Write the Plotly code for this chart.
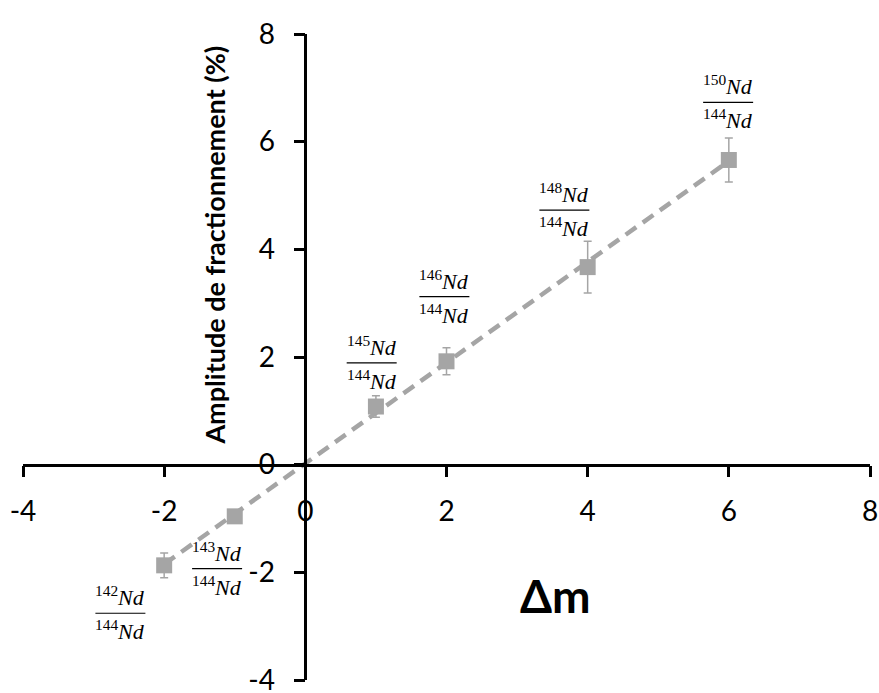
import numpy as np
import plotly.graph_objects as go

# Data
dm = [-2, -1, 1, 2, 4, 6]
amplitude = [-1.87, -0.96, 1.08, 1.92, 3.67, 5.66]
err = [0.23, 0.10, 0.20, 0.25, 0.48, 0.41]
labels = ["142", "143", "145", "146", "148", "150"]
label_x = [-2.62, -1.25, 0.94, 1.97, 3.67, 5.99]
label_y = [-2.76, -1.93, 1.89, 3.12, 4.73, 6.73]
tick_vals = [-4, -2, 0, 2, 4, 6, 8]
tick_text = ["-4", "-2", "0", "2", "4", "6", "8"]

GREY = "#A5A5A5"
TICKFONT = dict(family="Lato", size=28, color="black")
FRAC_FONT = dict(family="Liberation Serif", size=22, color="black")

slope, intercept = np.polyfit(dm, amplitude, 1)
tx = [min(dm), max(dm)]
ty = [slope * v + intercept for v in tx]

fig = go.Figure()
fig.add_trace(go.Scatter(x=tx, y=ty, mode="lines",
                         line=dict(color=GREY, width=4.5, dash="13px,8px"),
                         hoverinfo="skip", showlegend=False))
fig.add_trace(go.Scatter(x=dm, y=amplitude, mode="markers",
                         marker=dict(symbol="square", size=16, color=GREY),
                         error_y=dict(type="data", array=err, visible=True,
                                      color=GREY, thickness=1.5, width=4),
                         showlegend=False))

for lab, lx, ly in zip(labels, label_x, label_y):
    fig.add_annotation(x=lx, y=ly, xref="x", yref="y",
                       text=f"<sup>{lab}</sup><i>Nd</i>",
                       showarrow=False, xanchor="center", yanchor="bottom",
                       yshift=1, font=FRAC_FONT)
    fig.add_annotation(x=lx, y=ly, xref="x", yref="y",
                       text="<sup>144</sup><i>Nd</i>",
                       showarrow=False, xanchor="center", yanchor="top",
                       yshift=-1, font=FRAC_FONT)
    fig.add_shape(type="line", xref="x", yref="y",
                  xsizemode="pixel", xanchor=lx, x0=-25, x1=25,
                  y0=ly, y1=ly, line=dict(color="black", width=1.2))

fig.add_annotation(x=-1.3, y=4.08, xref="x", yref="y",
                   text="<b>Amplitude de fractionnement (%)</b>",
                   textangle=-90, showarrow=False,
                   font=dict(family="Lato", size=27, color="black"))
fig.add_annotation(x=3.55, y=-2.43, xref="x", yref="y",
                   text="<b>Δm</b>", showarrow=False,
                   font=dict(family="Lato", size=46, color="black"))

axis_common = dict(range=[-4, 8], tickvals=tick_vals, ticktext=tick_text,
                   showgrid=False, zeroline=False, showline=True,
                   linecolor="black", linewidth=2.5, ticks="outside",
                   ticklen=11, tickwidth=2.5, tickcolor="black",
                   tickfont=TICKFONT, automargin=False,
                   ticklabeloverflow="allow",
                   anchor="free", position=1/3, domain=[0, 1])

fig.update_xaxes(**axis_common, side="bottom", ticklabelstandoff=10)
fig.update_yaxes(**axis_common, side="left", ticklabelstandoff=13)

fig.update_layout(width=879, height=693,
                  margin=dict(l=23, r=9, t=34, b=13),
                  paper_bgcolor="white", plot_bgcolor="white")

fig.write_html("out.html",
               config={"displayModeBar": False},
               post_script="document.body.style.margin='0px';"
                           "document.body.style.overflow='hidden';")
